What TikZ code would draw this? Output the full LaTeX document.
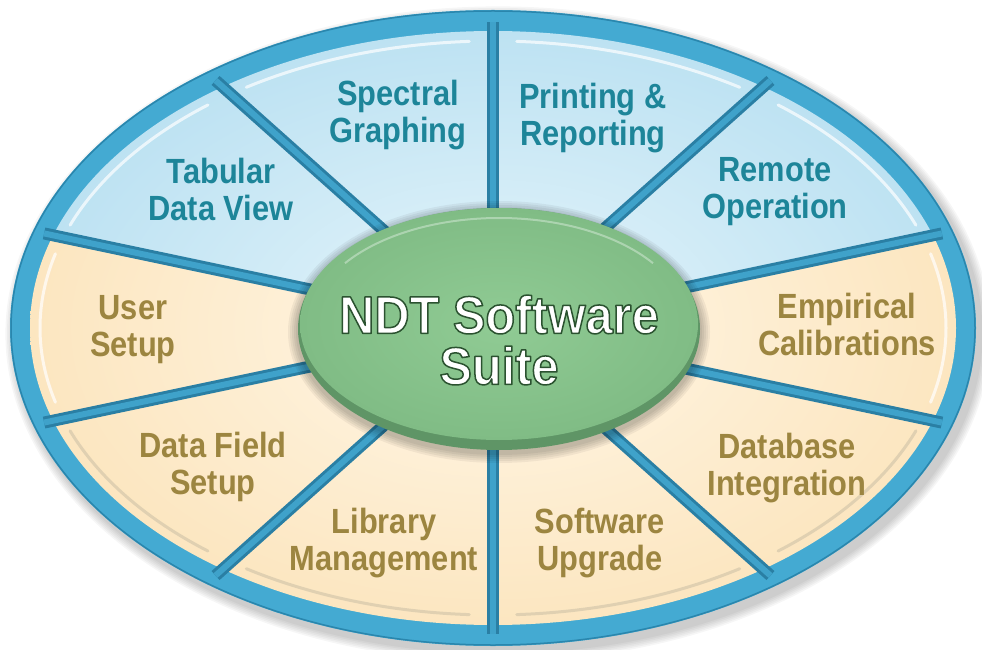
\documentclass[tikz,border=0pt]{standalone}
\usepackage{fontspec}
\setmainfont{Liberation Sans}
\newfontfamily\lblfont[FakeStretch=0.88]{Liberation Sans}
\newfontfamily\ctrfont[FakeStretch=0.92]{Liberation Sans}
\usetikzlibrary{calc}
\definecolor{ringblue}{HTML}{44AAD2}
\definecolor{ringdark}{HTML}{2A86AD}
\definecolor{divblue}{HTML}{3FA2CA}
\definecolor{divdark}{HTML}{2A7FA4}
\definecolor{bluein}{HTML}{E6F5FB}
\definecolor{blueout}{HTML}{BDE2F2}
\definecolor{beigein}{HTML}{FFF7E8}
\definecolor{beigeout}{HTML}{FCE6C0}
\definecolor{bluetext}{HTML}{1D8599}
\definecolor{goldtext}{HTML}{9C8540}
\definecolor{greenface}{HTML}{90CB94}
\definecolor{greenedge}{HTML}{80BC85}
\definecolor{greendark}{HTML}{5F9566}
\definecolor{beigeline}{HTML}{D9CBAE}
\begin{document}
\begin{tikzpicture}[x=1pt,y=1pt,
  lbl/.style={font=\lblfont\bfseries\fontsize{35}{37}\selectfont, align=center, inner sep=0pt},
  bluelbl/.style={lbl, text=bluetext},
  goldlbl/.style={lbl, text=goldtext},
  centerlbl/.style={font=\ctrfont\bfseries\fontsize{53}{51}\selectfont, align=center, inner sep=0pt, text=white},
]
\useasboundingbox (0,0) rectangle (982,649);
\coordinate (C) at (493,321);
\coordinate (G) at (499,320);
% drop shadow
\foreach \i in {1,...,6}
  \fill[black, opacity=0.035] ($(C)+(5,-6)$) ellipse[x radius=483+\i*1.6, y radius=318+\i*1.6];
% outer ring
\fill[ringblue] (C) ellipse[x radius=483, y radius=318];
\draw[ringdark, line width=1.5pt] (C) ellipse[x radius=482, y radius=317];
% sectors
\foreach \a/\ci/\co/\hl/\ho in {18/bluein/blueout/white/0.7, 54/bluein/blueout/white/0.7, 90/bluein/blueout/white/0.7, 126/bluein/blueout/white/0.7,
  162/beigein/beigeout/white/0.7, 198/beigein/beigeout/beigeline/0.8, 234/beigein/beigeout/beigeline/0.8, 270/beigein/beigeout/beigeline/0.8, 306/beigein/beigeout/beigeline/0.8, 342/beigein/beigeout/white/0.7}{
  \begin{scope}
    \clip (C) -- ($(C)+(\a:463 and 297)$) arc[start angle=\a, delta angle=36, x radius=463, y radius=297] -- cycle;
    \shade[inner color=\ci, outer color=\co] (C) ellipse[x radius=463, y radius=297];
    \draw[\hl, opacity=\ho, line width=3pt, line cap=round] ($(C)+(\a+3:453 and 287)$) arc[start angle=\a+3, delta angle=30, x radius=453, y radius=287];
  \end{scope}
}
% dividers
\foreach \a in {18,54,...,342}{
  \draw[divdark, line width=12pt] (C) -- ($(C)+(\a:472 and 306)$);
  \draw[divblue, line width=6pt] (C) -- ($(C)+(\a:472 and 306)$);
}
% centre ellipse
\foreach \i in {1,...,5}
  \fill[black, opacity=0.05] ($(G)+(0,-3)$) ellipse[x radius=201+\i*2, y radius=121+\i*2];
\fill[greendark] (G) ellipse[x radius=201, y radius=121];
\shade[inner color=greenface, outer color=greenedge] (499,325) ellipse[x radius=199, y radius=116];
\draw[white, opacity=0.35, line width=2pt] ($(499,325)+(35:188 and 106)$) arc[start angle=35, end angle=145, x radius=188, y radius=106];
% labels
\node[bluelbl] (spectral) at (398,534) {Spectral\\Graphing};
\node[bluelbl] (printing) at (593,531) {Printing \&\\Reporting};
\node[bluelbl] (tabular) at (221,460) {Tabular\\Data View};
\node[bluelbl] (remote) at (775,457) {Remote\\Operation};
\node[goldlbl] (user) at (133,319) {User\\Setup};
\node[goldlbl] (empirical) at (847,325) {Empirical\\Calibrations};
\node[goldlbl] (datafield) at (213,182) {Data Field\\Setup};
\node[goldlbl] (database) at (787,181) {Database\\Integration};
\node[goldlbl] (library) at (384,106) {Library\\Management};
\node[goldlbl] (upgrade) at (600,106) {Software\\Upgrade};
\node[centerlbl] (suite) at (499,309) {\special{pdf:literal direct 1 j 0.17 0.32 0.19 RG 1.5 w 2 Tr}NDT Software\\Suite\special{pdf:literal direct 0 Tr}};
\end{tikzpicture}
\end{document}
